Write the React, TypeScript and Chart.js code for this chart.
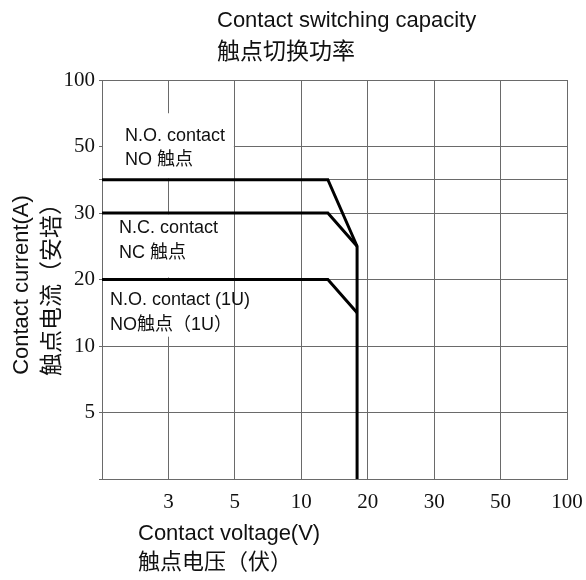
import React, { useEffect, useRef } from "react";
import { Chart, registerables } from "chart.js";

Chart.register(...registerables);

// ---- Data ----
const xAxisValues = [2, 3, 5, 10, 20, 30, 50, 100]; // first entry = unlabeled left edge
const xTickLabels = ["", "3", "5", "10", "20", "30", "50", "100"];
const yAxisValues = [0, 5, 10, 20, 30, 50, 100];
const yTickLabels = ["", "5", "10", "20", "30", "50", "100"];
const yExtraGrid = [40];

const voltageNO = [2, 14, 18.4, 18.4];
const currentNO = [40, 40, 25, 0];
const voltageNC = [2, 14, 18.4];
const currentNC = [30, 30, 25];
const voltage1U = [2, 14, 18.4];
const current1U = [20, 20, 15];

const titleLines = ["Contact switching capacity", "触点切换功率"];
const xTitleLines = ["Contact voltage(V)", "触点电压（伏）"];
const yTitleLines = ["Contact current(A)", "触点电流（安培）"];
const labelNO = ["N.O. contact", "NO 触点"];
const labelNC = ["N.C. contact", "NC 触点"];
const label1U = ["N.O. contact (1U)", "NO触点（1U）"];

// piecewise-linear position on an evenly spaced grid of values
function pos(v: number, arr: number[]): number {
  for (let i = 0; i < arr.length - 1; i++) {
    if (v >= arr[i] && v <= arr[i + 1]) {
      return i + (v - arr[i]) / (arr[i + 1] - arr[i]);
    }
  }
  return v < arr[0] ? 0 : arr.length - 1;
}

function series(xs: number[], ys: number[]) {
  return xs.map((x, i) => ({ x: pos(x, xAxisValues), y: pos(ys[i], yAxisValues) }));
}

const SANS = "'Liberation Sans', Arial, sans-serif";
const SERIF = "'Liberation Serif', 'Times New Roman', serif";
const CJK = "'Noto Sans CJK SC', sans-serif";
const MIXED = "'Liberation Sans', 'Noto Sans CJK SC', sans-serif";
const GRID = "#6a6a6a";

const textPlugin = {
  id: "textPlugin",
  beforeDatasetsDraw(chart: any) {
    const { ctx, scales } = chart;
    const xs = scales.x;
    const ys = scales.y;
    ctx.save();
    ctx.fillStyle = "#ffffff";
    const boxes = [
      [0, 5.5, 2, 4.52],
      [0, 3.98, 2, 3.03],
      [0, 2.98, 2, 2.14],
    ];
    boxes.forEach(([x0, y0, x1, y1]) => {
      const px0 = xs.getPixelForValue(x0) + 1;
      const px1 = xs.getPixelForValue(x1) - 1;
      const py0 = ys.getPixelForValue(y0);
      const py1 = ys.getPixelForValue(y1);
      ctx.fillRect(px0, py0, px1 - px0, py1 - py0);
    });
    ctx.restore();
  },
  afterDraw(chart: any) {
    const { ctx } = chart;
    ctx.save();
    ctx.fillStyle = "#111";
    ctx.textAlign = "left";
    ctx.textBaseline = "alphabetic";
    // title
    ctx.font = `22px ${SANS}`;
    ctx.fillText(titleLines[0], 217, 27);
    ctx.font = `23px ${CJK}`;
    ctx.textBaseline = "middle";
    ctx.fillText(titleLines[1], 217, 50);
    // x title
    ctx.textBaseline = "alphabetic";
    ctx.font = `22px ${SANS}`;
    ctx.fillText(xTitleLines[0], 138, 540);
    ctx.font = `22px ${CJK}`;
    ctx.textBaseline = "middle";
    ctx.fillText(xTitleLines[1], 138, 561);
    // y title
    ctx.save();
    ctx.translate(22, 285);
    ctx.rotate(-Math.PI / 2);
    ctx.textAlign = "center";
    ctx.font = `22px ${SANS}`;
    ctx.fillText(yTitleLines[0], 0, 0);
    ctx.restore();
    ctx.save();
    ctx.translate(50, 284);
    ctx.rotate(-Math.PI / 2);
    ctx.textAlign = "center";
    ctx.font = `23px ${CJK}`;
    ctx.fillText(yTitleLines[1], 0, 0);
    ctx.restore();
    // in-plot labels
    const drawLabel = (lines: string[], x: number, y1: number, y2: number) => {
      ctx.textAlign = "left";
      ctx.textBaseline = "alphabetic";
      ctx.font = `18px ${SANS}`;
      ctx.fillText(lines[0], x, y1);
      ctx.font = `18px ${MIXED}`;
      ctx.fillText(lines[1], x, y2);
    };
    drawLabel(labelNO, 125, 141, 165);
    drawLabel(labelNC, 119, 233, 258);
    drawLabel(label1U, 110, 305, 330);
    ctx.restore();
  },
};

export default function App() {
  const ref = useRef<HTMLCanvasElement | null>(null);
  useEffect(() => {
    if (!ref.current) return;
    const lineStyle = {
      borderColor: "#000",
      borderWidth: 3,
      pointRadius: 0,
      showLine: true,
      fill: false,
      borderJoinStyle: "miter" as const,
      borderCapStyle: "butt" as const,
      tension: 0,
    };
    const chart = new Chart(ref.current, {
      type: "scatter",
      data: {
        datasets: [
          { label: "NO", data: series(voltageNO, currentNO), ...lineStyle },
          { label: "NC", data: series(voltageNC, currentNC), ...lineStyle },
          { label: "NO 1U", data: series(voltage1U, current1U), ...lineStyle },
        ],
      },
      options: {
        animation: false,
        responsive: false,
        devicePixelRatio: 1,
        layout: { padding: { left: 0, right: 19, top: 80, bottom: 0 } },
        plugins: {
          legend: { display: false },
          tooltip: { enabled: false },
          title: { display: false },
        },
        scales: {
          x: {
            type: "linear",
            min: 0,
            max: xAxisValues.length - 1,
            afterBuildTicks: (scale: any) => {
              scale.ticks = xAxisValues.map((_, i) => ({ value: i }));
            },
            afterFit: (scale: any) => {
              scale.height = 101;
              scale.paddingLeft = 0;
              scale.paddingRight = 0;
            },
            grid: { color: GRID, lineWidth: 1, drawTicks: false },
            border: { display: true, color: GRID, width: 1 },
            ticks: {
              autoSkip: false,
              maxRotation: 0,
              padding: 11,
              color: "#111",
              font: { family: SERIF, size: 21 },
              callback: (v: any) => xTickLabels[Math.round(Number(v))] ?? "",
            },
          },
          y: {
            type: "linear",
            min: 0,
            max: yAxisValues.length - 1,
            afterBuildTicks: (scale: any) => {
              const p = yAxisValues.map((_, i) => i).concat(yExtraGrid.map((v) => pos(v, yAxisValues)));
              p.sort((a, b) => a - b);
              scale.ticks = p.map((v) => ({ value: v }));
            },
            afterFit: (scale: any) => {
              scale.width = 102;
              scale.paddingTop = 0;
              scale.paddingBottom = 0;
            },
            grid: { color: GRID, lineWidth: 1, drawTicks: true, tickLength: 3 },
            border: { display: true, color: GRID, width: 1 },
            ticks: {
              autoSkip: false,
              padding: 4,
              color: "#111",
              font: { family: SERIF, size: 21 },
              callback: (v: any) => {
                const n = Number(v);
                return Number.isInteger(n) ? yTickLabels[n] ?? "" : "";
              },
            },
          },
        },
      },
      plugins: [textPlugin],
    });
    return () => chart.destroy();
  }, []);
  return (
    <div style={{ position: "absolute", left: 0, top: 0, width: 586, height: 580, background: "#fff" }}>
      <canvas ref={ref} width={586} height={580} style={{ display: "block" }} />
    </div>
  );
}
